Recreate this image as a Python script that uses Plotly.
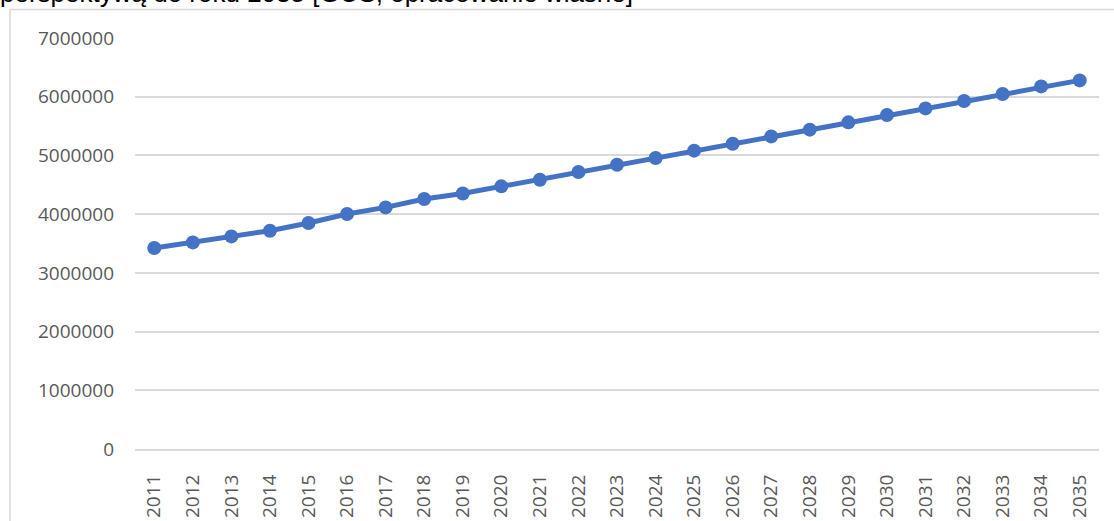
import plotly.graph_objects as go

# Prognoza liczby ludności w wieku 65+ do roku 2035
years = [str(y) for y in range(2011, 2036)]
values = [3424000, 3519000, 3621000, 3718000, 3849000, 4003000, 4115000, 4258000,
          4352000, 4473000, 4587000, 4718000, 4842000, 4957000, 5081000, 5200000,
          5324000, 5439000, 5563000, 5689000, 5801000, 5927000, 6047000, 6176000,
          6278000]
y_ticks = [0, 1000000, 2000000, 3000000, 4000000, 5000000, 6000000, 7000000]
caption = "perspektywą do roku 2035 [GUS, opracowanie własne]"

W, H = 1114, 521
L, R, T, B = 135, 15, 38, 72
pw, ph = W - L - R, H - T - B

def px_x(x):
    return (x - L) / pw

def px_y(y):
    return (H - B - y) / ph

fig = go.Figure()
fig.add_trace(go.Scatter(
    x=years, y=values, mode="lines+markers",
    line=dict(color="#4472C4", width=5),
    marker=dict(color="#4472C4", size=14),
    hoverinfo="x+y", showlegend=False,
))

grid = "#D9D9D9"
tick_font = dict(family="Open Sans, Segoe UI, sans-serif", size=19, color="#595959")

fig.update_layout(
    width=W, height=H,
    margin=dict(l=L, r=R, t=T, b=B, autoexpand=False),
    paper_bgcolor="white", plot_bgcolor="white",
    xaxis=dict(
        type="category", range=[-0.5, len(years) - 0.5],
        tickangle=-90, tickfont=tick_font, showgrid=False,
        showline=True, linecolor=grid, linewidth=2,
        ticks="", ticklabelstandoff=16, zeroline=False, automargin=False,
    ),
    yaxis=dict(
        range=[0, 7000000], tickvals=y_ticks,
        ticktext=[str(v) for v in y_ticks],
        tickfont=tick_font, showgrid=True, gridcolor=grid, gridwidth=2,
        zeroline=False, showline=False, ticks="", ticklabelstandoff=20,
        automargin=False,
    ),
    shapes=[
        # chart frame (left and top edges)
        dict(type="line", xref="paper", yref="paper",
             x0=px_x(10), x1=px_x(10), y0=px_y(9.5), y1=px_y(530),
             line=dict(color=grid, width=1.5)),
        dict(type="line", xref="paper", yref="paper",
             x0=px_x(10), x1=px_x(1125), y0=px_y(9.5), y1=px_y(9.5),
             line=dict(color=grid, width=1.5)),
    ],
    annotations=[
        dict(text=caption, xref="paper", yref="paper",
             x=px_x(-2), y=px_y(10), xanchor="left", yanchor="bottom",
             showarrow=False,
             font=dict(family="Liberation Sans, Arial, sans-serif", size=26,
                       color="black")),
    ],
)

fig.write_html("out.html")
